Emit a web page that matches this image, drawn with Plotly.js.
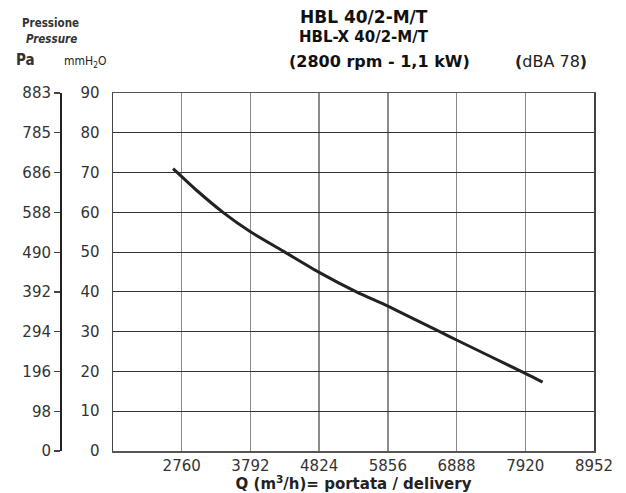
<!DOCTYPE html>
<html>
<head>
<meta charset="utf-8">
<script src="https://cdn.plot.ly/plotly-3.0.1.min.js"></script>
<style>html,body{margin:0;padding:0;background:#fff;}#chart{width:626px;height:493px;}</style>
</head>
<body>
<div id="chart"></div>
<script>
// Data
const flowQ = [2630, 3000, 3380, 3792, 4308, 4824, 5383, 5856, 6658, 6888, 7920, 8180];
const pressureMm = [71.0, 65.3, 60.0, 55.1, 50.0, 44.9, 40.0, 36.4, 29.8, 27.9, 19.5, 17.3];
const xTicks = [2760, 3792, 4824, 5856, 6888, 7920, 8952];
const mmTicks = [0, 10, 20, 30, 40, 50, 60, 70, 80, 90];
const paTicks = [0, 98, 196, 294, 392, 490, 588, 686, 785, 883];
const xMin = 1728, xMax = 8952;

const W = 626, H = 493;
const M = {l: 20, r: 32, t: 93, b: 42};
const plotW = W - M.l - M.r, plotH = H - M.t - M.b;
const px = x => (x - M.l) / plotW;
const py = y => 1 - (y - M.t) / plotH;

const tickFont = {family: 'DejaVu Sans', size: 15, color: '#333'};

const trace = {
  x: flowQ, y: pressureMm, type: 'scatter', mode: 'lines',
  line: {color: '#222', width: 3, shape: 'spline', smoothing: 0.6},
  hoverinfo: 'skip', showlegend: false
};
// invisible trace to activate the Pa axis
const paTrace = {x: [xMin], y: [0], yaxis: 'y2', type: 'scatter', mode: 'markers',
  marker: {opacity: 0}, showlegend: false, hoverinfo: 'skip'};

const ann = (text, x, y, font, yanchor) => ({text, x: px(x), y: py(y), xref: 'paper', yref: 'paper',
  showarrow: false, xanchor: 'center', yanchor: yanchor || 'middle', borderpad: 0, font});

const condB = (size) => ({family: 'DejaVu Sans Condensed', size, color: '#333', weight: 'bold'});

const layout = {
  width: W, height: H, margin: M,
  paper_bgcolor: '#fff', plot_bgcolor: '#fff',
  xaxis: {
    domain: [px(113), 1], range: [xMin, xMax], tickvals: xTicks, ticktext: xTicks.map(String),
    showgrid: true, gridcolor: '#8a8a8a', gridwidth: 1.5, zeroline: false,
    showline: true, linecolor: '#555', linewidth: 1.5, mirror: true,
    ticks: '', tickfont: tickFont,
    title: {text: 'Q (m<sup>3</sup>/h)= portata / delivery', standoff: 5,
      font: {family: 'DejaVu Sans', size: 15, color: '#222', weight: 'bold'}}
  },
  yaxis: {
    range: [0, 90], tickvals: mmTicks, ticktext: mmTicks.map(String),
    showgrid: true, gridcolor: '#333', gridwidth: 1.2, zeroline: false,
    showline: true, linecolor: '#444', linewidth: 1.5, mirror: true,
    ticks: '', tickfont: tickFont, ticklabelstandoff: 9
  },
  yaxis2: {
    overlaying: 'y', anchor: 'free', position: px(60), side: 'left',
    range: [0, 883], tickvals: paTicks, ticktext: paTicks.map(String),
    showgrid: false, zeroline: false, showline: true, linecolor: '#222', linewidth: 1.5,
    ticks: 'outside', ticklen: 6, tickcolor: '#444', tickwidth: 1.2, tickfont: tickFont
  },
  annotations: [
    ann('Pressione', 50, 31, condB(11.5), 'bottom'),
    ann('<i>Pressure</i>', 51, 31, condB(11.5), 'top'),
    ann('Pa', 25, 60, condB(15)),
    ann('mmH<sub>2</sub>O', 85, 62, {family: 'DejaVu Sans Condensed', size: 12, color: '#222'}),
    ann('HBL 40/2-M/T', 364, 17.5, {family: 'DejaVu Sans', size: 17, color: '#111', weight: 'bold'}),
    ann('HBL-X 40/2-M/T', 364, 37.5, {family: 'DejaVu Sans', size: 15, color: '#111', weight: 'bold'}),
    ann('(2800 rpm - 1,1 kW)', 379, 61, {family: 'DejaVu Sans', size: 16, color: '#111', weight: 'bold'}),
    ann('<b>(</b>dBA 78<b>)</b>', 551, 61, {family: 'DejaVu Sans', size: 16, color: '#222'})
  ]
};

Plotly.newPlot('chart', [trace, paTrace], layout, {staticPlot: true, displayModeBar: false});
</script>
</body>
</html>
